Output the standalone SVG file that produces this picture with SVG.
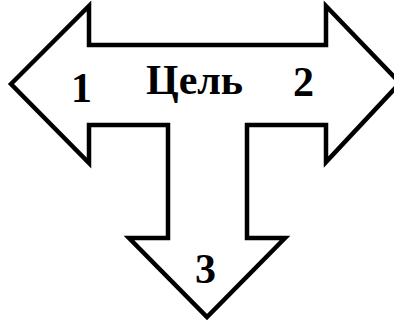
<svg xmlns="http://www.w3.org/2000/svg" width="394" height="321" viewBox="0 0 394 321">
<style>
.shape{fill:#fff;stroke:#000;stroke-width:4.5;stroke-linejoin:miter;stroke-miterlimit:10}
.t{font-family:"Liberation Serif","Times New Roman",serif;font-weight:bold;font-size:42px;fill:#000}
</style>
<g id="arrow">
<polygon class="shape" points="11,84 89,6 89,45 326,45 326,6 400,83 326,162 326,125 247,125 247,238 285,238 207,317 129,238 168,238 168,125 89,125 89,163"/>
</g>
<g id="labels">
<text class="t" x="71" y="102">1</text>
<text class="t" x="146" y="94">Цель</text>
<text class="t" x="293" y="96">2</text>
<text class="t" x="195" y="283">3</text>
</g>
</svg>
